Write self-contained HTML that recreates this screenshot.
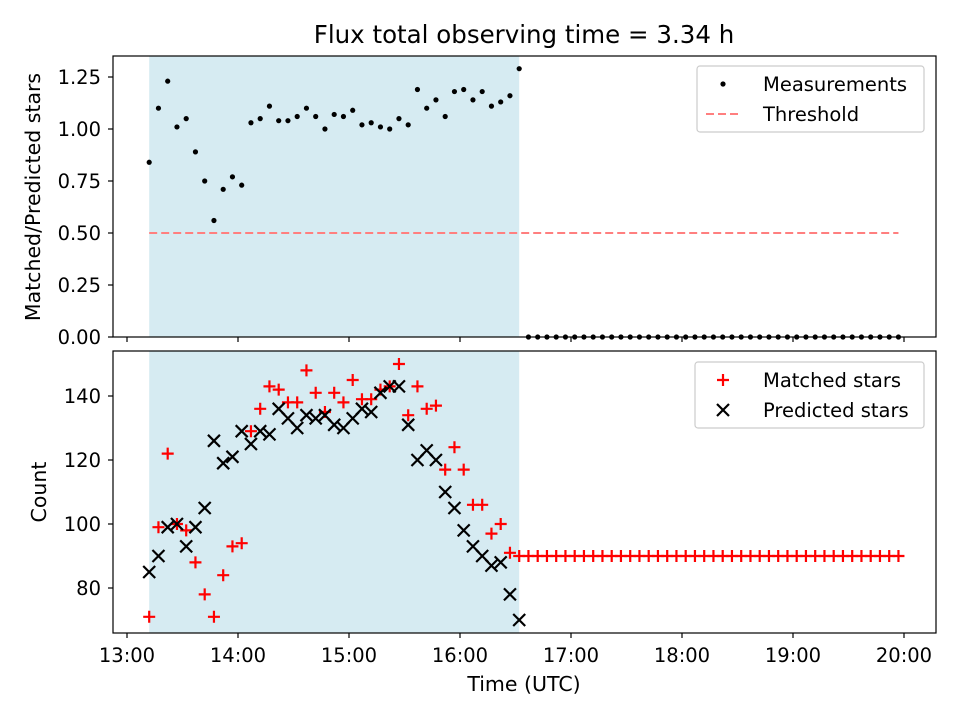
<!DOCTYPE html>
<html><head><meta charset="utf-8"><style>
body{margin:0;background:#fff;}
svg{display:block;font-family:"DejaVu Sans","Liberation Sans",sans-serif;}
</style></head><body>
<svg id="chart" width="960" height="720" viewBox="0 0 960 720" xmlns="http://www.w3.org/2000/svg">
<rect width="960" height="720" fill="#fff"/>
<text x="524" y="43" font-size="24.5" text-anchor="middle">Flux total observing time = 3.34 h</text>
<g id="topPanel"></g><g id="botPanel"></g>
</svg>
<script>
const ratio=[0.84,1.10,1.23,1.01,1.05,0.89,0.75,0.56,0.71,0.77,0.73,1.03,1.05,1.11,1.04,1.04,1.06,1.10,1.06,1.00,1.07,1.06,1.09,1.02,1.03,1.01,1.00,1.05,1.02,1.19,1.10,1.14,1.06,1.18,1.19,1.14,1.18,1.11,1.13,1.16,1.29];
const matched=[71,99,122,100,98,88,78,71,84,93,94,129,136,143,142,138,138,148,141,135,141,138,145,139,139,142,143,150,134,143,136,137,117,124,117,106,106,97,100,91,90];
const predicted=[85,90,99,100,93,99,105,126,119,121,129,125,129,128,136,133,130,134,133,134,131,130,133,136,135,141,143,143,131,120,123,120,110,105,98,93,90,87,88,78,70];
const afterCount=41; const afterMatched=90; const afterRatio=0;
const startMin=12, stepMin=5, afterStartMin=217;
const threshold=0.5;
const xTicks=['13:00','14:00','15:00','16:00','17:00','18:00','19:00','20:00'];
const topTicks=[0,0.25,0.5,0.75,1.0,1.25];
const botTicks=[80,100,120,140];

const NS='http://www.w3.org/2000/svg';
function mk(p,t,a){const e=document.createElementNS(NS,t);for(const k in a)e.setAttribute(k,a[k]);p.appendChild(e);return e;}
const X=m=>127+m*111/60;
const L=113,R=936;
const TF=19.5;
const yT=v=>337-v*208; const yB=v=>396-(v-140)*3.2;
const svgEl=document.getElementById('chart');
const gTop=document.getElementById('topPanel'), gBot=document.getElementById('botPanel');
const tMain=ratio.map((_,i)=>startMin+i*stepMin);
const tAfter=Array.from({length:afterCount},(_,i)=>afterStartMin+i*stepMin);
function panel(g,y0,y1,ticks,yf,fmt,name){
  const sh=mk(g,'rect',{x:X(tMain[0]),y:y0,width:X(tMain[tMain.length-1])-X(tMain[0]),height:y1-y0,fill:'#add8e6','fill-opacity':0.5});
  
  
  ticks.forEach(v=>{const y=yf(v);mk(g,'line',{x1:L-5,x2:L,y1:y,y2:y,stroke:'#000','stroke-width':1.2});
    const t=mk(g,'text',{x:L-12,y:y+7,'font-size':TF,'text-anchor':'end'});t.textContent=fmt(v);
    
    });
  xTicks.forEach((s,i)=>mk(g,'line',{x1:X(i*60),x2:X(i*60),y1:y1,y2:y1+5,stroke:'#000','stroke-width':1.2}));
}
panel(gTop,56,337,topTicks,yT,v=>v.toFixed(2),'top');
panel(gBot,351,633,botTicks,yB,v=>String(v),'bottom');
xTicks.forEach((s,i)=>{const t=mk(gBot,'text',{x:X(i*60),y:662,'font-size':TF,'text-anchor':'middle'});t.textContent=s;
  
  });
const th=mk(gTop,'line',{x1:X(tMain[0]),x2:X(tAfter[tAfter.length-1]),y1:yT(threshold),y2:yT(threshold),stroke:'#ff7f7f','stroke-width':2,'stroke-dasharray':'8,4'});


ratio.forEach((v,i)=>{const c=mk(gTop,'circle',{cx:X(tMain[i]),cy:yT(v),r:2.6,fill:'#000'});
  
  });
tAfter.forEach(t=>{const c=mk(gTop,'circle',{cx:X(t),cy:yT(afterRatio),r:2.6,fill:'#000'});
  
  });
function plus(x,y){const g=mk(gBot,'path',{d:`M${x-6},${y}H${x+6}M${x},${y-6}V${y+6}`,stroke:'#f00','stroke-width':2.2});
  
  }
function cross(x,y){const g=mk(gBot,'path',{d:`M${x-6},${y-6}L${x+6},${y+6}M${x-6},${y+6}L${x+6},${y-6}`,stroke:'#000','stroke-width':2.2});
  
  }
matched.forEach((v,i)=>plus(X(tMain[i]),yB(v)));
tAfter.forEach(t=>plus(X(t),yB(afterMatched)));
predicted.forEach((v,i)=>cross(X(tMain[i]),yB(v)));
[[56,337,'top-axes-frame'],[351,633,'bottom-axes-frame']].forEach(([a,b,n])=>{const r=mk(svgEl,'rect',{x:L,y:a,width:R-L,height:b-a,fill:'none',stroke:'#000','stroke-width':1.2});
  
  });
let tt=mk(svgEl,'text',{x:0,y:0,'font-size':20.5,'text-anchor':'middle',transform:'translate(40,197) rotate(-90)'});tt.textContent='Matched/Predicted stars';


tt=mk(svgEl,'text',{x:0,y:0,'font-size':20.5,'text-anchor':'middle',transform:'translate(46,492) rotate(-90)'});tt.textContent='Count';


tt=mk(svgEl,'text',{x:524,y:691,'font-size':20.5,'text-anchor':'middle'});tt.textContent='Time (UTC)';


function legend(x0,y,w,items,name){const g=mk(svgEl,'g',{});
  
  
  mk(g,'rect',{x:x0,y:y,width:w,height:items.length*30+6,rx:3,fill:'#fff','fill-opacity':0.8,stroke:'#ccc','stroke-width':1.2});
  items.forEach((it,i)=>{const cy=y+18+i*30;it[0](g,718,cy);const tx=mk(g,'text',{x:763,y:cy+7,'font-size':TF});tx.textContent=it[1];
    
    });}
legend(697,66,227,[[(g,x,y)=>mk(g,'circle',{cx:x+5,cy:y,r:2.6,fill:'#000'}),'Measurements'],
  [(g,x,y)=>mk(g,'line',{x1:x-12,x2:x+22,y1:y,y2:y,stroke:'#ff7f7f','stroke-width':2,'stroke-dasharray':'8,4'}),'Threshold']],'top-legend');
legend(695,362,229,[[(g,x,y)=>mk(g,'path',{d:`M${x-1},${y}H${x+11}M${x+5},${y-6}V${y+6}`,stroke:'#f00','stroke-width':2.2}),'Matched stars'],
  [(g,x,y)=>mk(g,'path',{d:`M${x-1},${y-6}L${x+11},${y+6}M${x-1},${y+6}L${x+11},${y-6}`,stroke:'#000','stroke-width':2.2}),'Predicted stars']],'bottom-legend');
</script>
</body></html>
